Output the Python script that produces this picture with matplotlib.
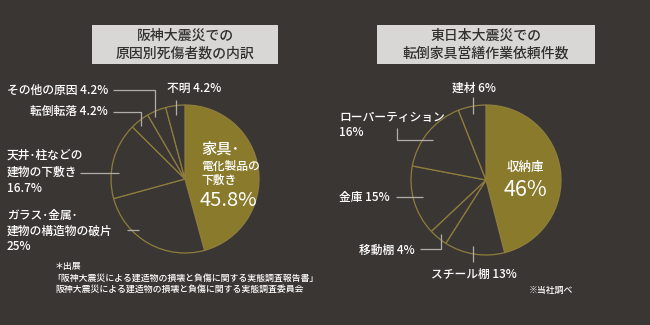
import matplotlib
matplotlib.use('Agg')
import matplotlib.pyplot as plt
from matplotlib.patches import Rectangle

plt.rcParams['font.family'] = ['Noto Sans CJK JP', 'DejaVu Sans']
plt.rcParams['font.weight'] = 'medium'

BG = '#3a3634'
GOLD = '#8a7a2c'
EDGE = '#8f7d3c'
LEAD = '#b0aeab'
W, H = 650, 325

# left chart: 阪神大震災 causes
left_cats = ['家具･電化製品の下敷き', 'ガラス･金属･建物の構造物の破片', '天井･柱などの建物の下敷き',
             '転倒転落', 'その他の原因', '不明']
left_vals = [45.8, 25, 16.7, 4.2, 4.2, 4.2]

# right chart: 東日本大震災 requests
right_cats = ['収納庫', 'スチール棚', '移動棚', '金庫', 'ローパーティション', '建材']
right_vals = [46, 13, 4, 15, 16, 6]

fig = plt.figure(figsize=(6.5, 3.25), dpi=100, facecolor=BG)
ax = fig.add_axes([0, 0, 1, 1])
ax.set_facecolor(BG)


def Y(y):
    return H - y


def draw_pie(vals, cx, cy, r):
    colors = [GOLD] + [BG] * (len(vals) - 1)
    ax.pie(vals, colors=colors, startangle=90, counterclock=False,
           center=(cx, Y(cy)), radius=r, frame=True,
           wedgeprops=dict(edgecolor=EDGE, linewidth=0.9))


def leader(xs, ys):
    ax.plot(xs, [Y(v) for v in ys], color=LEAD, lw=0.9, solid_capstyle='butt')


def label(x, y, s, size=8.5, ha='left', **kw):
    ax.text(x, Y(y), s, color='white', fontsize=size, ha=ha, va='center', **kw)


def title_box(x0, x1, y0, y1, lines):
    ax.add_patch(Rectangle((x0, Y(y1)), x1 - x0, y1 - y0, facecolor='#d8d7d6',
                           edgecolor='none'))
    xm = (x0 + x1) / 2
    ax.text(xm, Y(y0 + 11), lines[0], color='#333030', fontsize=10, ha='center', va='center')
    ax.text(xm, Y(y0 + 28), lines[1], color='#333030', fontsize=10, ha='center', va='center')


# ---- left ----
draw_pie(left_vals, 185, 179, 74)
title_box(92, 278, 25, 64, ['阪神大震災での', '原因別死傷者数の内訳'])

label(167, 88, f'不明 {left_vals[5]}%')
leader([176, 176], [100, 115])
label(7, 90, f'その他の原因 {left_vals[4]}%')
leader([113, 155, 155], [90, 90, 117])
label(30, 112, f'転倒転落 {left_vals[3]}%')
leader([113, 141, 141], [112, 112, 126])
label(7, 155, '天井･柱などの')
label(7, 172, '建物の下敷き')
label(7, 189, f'{left_vals[2]}%')
leader([80, 119], [173, 173])
label(7, 215, 'ガラス･金属･')
label(7, 231, '建物の構造物の破片')
label(7, 246, f'{left_vals[1]:g}%')
leader([127, 139], [230, 230])

label(201, 149, '家具･', size=11)
label(201, 166, '電化製品の', size=8.5)
label(201, 180, '下敷き', size=8.5)
label(200, 201, f'{left_vals[0]}%', size=14.5, fontweight='normal')

note = dict(color='white', fontsize=6.4, ha='left', va='center')
ax.text(55, Y(267), '＊出展', **note)
ax.text(52, Y(278), '「阪神大震災による建造物の損壊と負傷に関する実態調査報告書」', **note)
ax.text(55, Y(289), '阪神大震災による建造物の損壊と負傷に関する実態調査委員会', **note)

# ---- right ----
draw_pie(right_vals, 486, 180, 75)
title_box(377, 595, 25, 64, ['東日本大震災での', '転倒家具営繕作業依頼件数'])

label(452, 88, f'建材 {right_vals[5]}%')
leader([473, 473], [97, 114])
label(339, 117, 'ローパーティション')
label(339, 132, f'{right_vals[4]}%')
leader([397, 397, 433], [128, 140, 140])
label(339, 198, f'金庫 {right_vals[3]}%')
leader([396, 423], [197, 197])
label(359, 250, f'移動棚 {right_vals[2]}%')
leader([420, 441, 441], [249, 249, 234])
label(431, 274, f'スチール棚 {right_vals[1]}%')
leader([473, 473], [262, 246])

label(525, 167, right_cats[0], size=9, ha='center')
label(525, 190, f'{right_vals[0]}%', size=15.5, ha='center', fontweight='normal')
ax.text(529, Y(290), '※当社調べ', color='white', fontsize=6.4, ha='left', va='center')

ax.set_xlim(0, W)
ax.set_ylim(0, H)
ax.set_aspect('auto')
ax.axis('off')

fig.savefig('out.png', dpi=100, facecolor=BG)
